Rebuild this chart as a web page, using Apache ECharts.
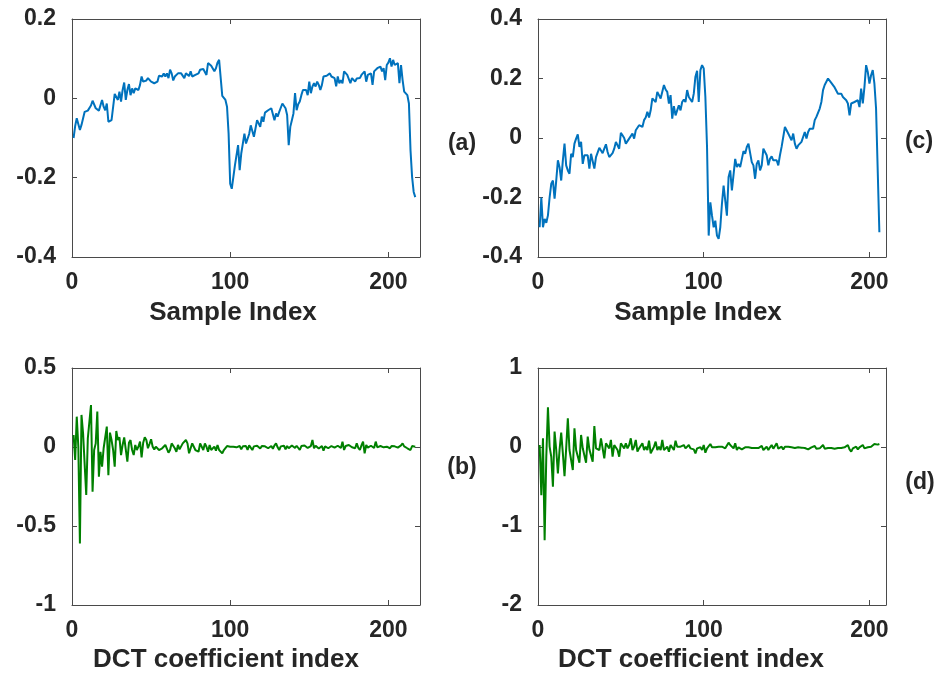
<!DOCTYPE html>
<html>
<head>
<meta charset="utf-8">
<script src="https://cdn.jsdelivr.net/npm/echarts@6/dist/echarts.min.js"></script>
<style>
html,body{margin:0;padding:0;background:#fff;}
#chart{width:938px;height:677px;}
</style>
</head>
<body>
<div id="chart"></div>
<script>
// Panel (a): sample signal 1
const signalA = [-0.100,-0.070,-0.050,-0.055,-0.080,-0.067,-0.063,-0.034,-0.032,-0.031,-0.030,-0.018,-0.006,-0.008,-0.025,-0.030,-0.031,-0.030,-0.004,-0.021,
-0.030,-0.013,-0.059,-0.057,-0.055,-0.050,0.011,0.008,-0.004,0.017,-0.008,0.021,0.040,-0.004,0.021,0.036,0.008,0.025,0.013,0.025,
0.025,0.021,0.034,0.055,0.042,0.046,0.045,0.051,0.046,0.042,0.040,0.038,0.040,0.042,0.057,0.059,0.055,0.063,0.055,0.063,
0.051,0.072,0.063,0.045,0.055,0.059,0.063,0.068,0.063,0.059,0.051,0.063,0.063,0.056,0.068,0.055,0.059,0.059,0.055,0.063,
0.072,0.073,0.074,0.072,0.059,0.089,0.090,0.082,0.080,0.068,0.076,0.090,0.097,0.101,0.006,0.004,-0.004,-0.021,-0.089,-0.215,
-0.228,-0.232,-0.169,-0.165,-0.118,-0.181,-0.139,-0.114,-0.089,-0.114,-0.110,-0.090,-0.068,-0.068,-0.097,-0.076,-0.055,-0.063,-0.072,-0.046,
-0.059,-0.036,-0.034,-0.030,-0.028,-0.025,-0.021,-0.055,-0.038,-0.046,-0.034,-0.030,-0.013,-0.017,-0.025,-0.042,-0.118,-0.072,-0.055,-0.038,
0.013,-0.030,-0.015,-0.008,0.008,0.021,0.025,0.021,0.008,0.042,0.013,0.030,0.038,0.030,0.042,0.034,0.021,0.034,0.055,0.055,
0.057,0.059,0.063,0.055,0.059,0.051,0.030,0.055,0.038,0.046,0.038,0.068,0.068,0.059,0.059,0.038,0.051,0.046,0.042,0.050,
0.055,0.051,0.059,0.055,0.068,0.042,0.059,0.055,0.063,0.034,0.068,0.063,0.076,0.072,0.080,0.068,0.076,0.046,0.084,0.090,
0.101,0.080,0.097,0.084,0.089,0.089,0.038,0.084,0.046,0.017,0.017,0.008,-0.013,-0.131,-0.198,-0.236,-0.249];

// Panel (b): DCT coefficients of signal 1
const dctA = [0.076,-0.082,0.192,0.002,-0.611,0.203,0.087,0.082,-0.304,0.055,0.055,0.266,-0.283,-0.019,0.023,0.224,-0.188,-0.030,-0.125,-0.008,
-0.019,0.129,-0.178,0.091,0.044,-0.019,-0.125,0.101,0.044,0.061,-0.051,0.013,0.061,0.070,-0.093,0.027,0.044,-0.019,-0.051,0.013,
-0.019,0.002,0.034,-0.066,0.027,0.061,0.044,-0.008,0.019,0.049,0.002,-0.015,0.002,-0.008,-0.019,-0.019,-0.008,-0.019,0.013,0.023,
-0.036,-0.019,0.023,0.023,-0.008,-0.030,0.013,-0.015,-0.019,0.023,0.034,0.044,0.023,-0.040,-0.008,0.023,0.034,-0.019,-0.008,-0.030,
0.023,0.013,-0.019,0.023,0.002,-0.030,0.013,-0.019,-0.019,0.002,-0.023,0.013,-0.019,-0.019,-0.040,-0.019,-0.008,0.006,-0.002,0.002,
0.010,0.002,-0.006,-0.002,0.008,0.006,-0.015,0.004,-0.002,0.006,-0.019,0.010,0.006,-0.019,0.004,-0.002,0.008,0.002,-0.010,0.006,
-0.006,0.004,0.002,-0.008,-0.002,0.006,-0.011,0.010,0.023,-0.002,-0.019,0.004,-0.002,0.008,-0.015,0.006,-0.008,0.004,0.010,0.002,
-0.006,0.008,0.004,-0.019,0.006,-0.002,0.010,0.002,-0.006,-0.002,0.006,0.044,-0.008,0.008,0.004,-0.010,-0.019,0.006,-0.023,0.004,
0.002,-0.008,-0.015,0.006,0.002,-0.004,-0.008,0.008,0.002,-0.006,0.034,-0.019,0.006,-0.004,0.013,0.004,-0.002,0.010,-0.008,0.023,
-0.006,-0.019,0.010,0.034,-0.040,0.013,-0.004,0.002,0.008,0.006,-0.006,0.034,-0.002,-0.011,0.006,0.004,-0.002,0.008,0.002,-0.006,
-0.008,0.006,-0.002,0.004,0.006,-0.004,0.002,0.010,0.023,0.004,0.006,-0.008,-0.019,-0.019,0.006,0.013,0.002];

// Panel (c): sample signal 2
const signalC = [-0.300,-0.200,-0.300,-0.272,-0.285,-0.260,-0.200,-0.154,-0.143,-0.204,-0.143,-0.075,-0.098,-0.143,-0.075,-0.019,-0.092,-0.109,-0.120,-0.053,
-0.064,-0.019,-0.002,0.012,-0.030,-0.013,-0.087,-0.058,-0.058,-0.058,-0.103,-0.053,-0.053,-0.103,-0.064,-0.064,-0.033,-0.042,-0.051,-0.036,
-0.021,-0.047,-0.064,-0.070,-0.051,-0.036,-0.013,-0.008,-0.036,0.017,0.009,0.000,-0.019,-0.019,-0.002,0.003,0.015,-0.002,0.026,0.031,
0.043,0.048,0.037,0.060,0.069,0.088,0.069,0.093,0.133,0.138,0.121,0.155,0.144,0.133,0.133,0.178,0.163,0.155,0.116,0.144,
0.065,0.107,0.076,0.073,0.110,0.093,0.121,0.129,0.121,0.161,0.138,0.138,0.121,0.149,0.206,0.226,0.121,0.228,0.245,0.234,
0.138,-0.030,-0.328,-0.216,-0.261,-0.300,-0.278,-0.328,-0.339,-0.300,-0.221,-0.160,-0.165,-0.261,-0.131,-0.109,-0.176,-0.182,-0.070,-0.098,
-0.087,-0.098,-0.098,-0.044,-0.053,-0.030,-0.019,-0.025,-0.081,-0.092,-0.137,-0.087,-0.075,-0.109,-0.092,-0.036,-0.042,-0.058,-0.092,-0.070,
-0.062,-0.075,-0.070,-0.075,-0.092,-0.058,-0.030,-0.030,0.037,0.037,0.015,0.015,-0.008,0.015,-0.019,-0.036,-0.025,-0.020,-0.013,-0.013,
0.020,-0.002,0.020,0.031,0.037,0.031,0.060,0.071,0.076,0.099,0.121,0.161,0.178,0.189,0.200,0.194,0.185,0.183,0.170,0.166,
0.149,0.155,0.149,0.138,0.133,0.127,0.116,0.076,0.116,0.121,0.121,0.121,0.127,0.104,0.166,0.116,0.172,0.245,0.222,0.183,
0.211,0.228,0.183,0.099,-0.109,-0.317];

// Panel (d): DCT coefficients of signal 2
const dctC = [0.025,-0.609,0.110,-1.180,-0.123,0.503,0.004,-0.123,-0.503,0.195,-0.038,-0.334,-0.038,0.182,-0.080,-0.368,-0.017,0.364,-0.038,-0.038,
-0.292,0.237,-0.038,-0.030,-0.199,0.152,-0.017,-0.038,-0.199,0.131,-0.030,-0.038,-0.186,0.266,-0.017,0.004,-0.038,0.110,-0.017,-0.144,
0.047,0.068,-0.017,0.089,-0.123,0.025,0.047,-0.038,-0.123,0.047,0.025,-0.017,0.047,-0.017,0.025,0.110,-0.038,0.004,0.089,-0.059,
-0.017,0.004,0.047,-0.038,0.004,-0.038,0.080,-0.080,-0.038,0.004,0.068,-0.038,0.004,-0.038,0.089,-0.038,-0.017,0.004,-0.059,0.025,
0.004,-0.038,0.080,0.004,-0.017,0.004,0.004,0.025,-0.017,0.004,0.025,-0.017,-0.004,-0.030,-0.080,-0.017,-0.038,-0.004,-0.038,0.025,
-0.072,-0.017,0.004,0.038,-0.004,0.004,-0.004,0.013,0.004,-0.004,0.004,0.025,-0.017,-0.004,0.055,0.025,0.038,-0.017,0.047,-0.038,
-0.004,0.004,-0.030,-0.013,-0.004,-0.013,-0.004,-0.021,-0.013,-0.004,-0.013,0.004,-0.013,-0.004,0.013,-0.038,-0.013,0.004,-0.038,-0.004,
0.025,-0.021,-0.030,0.047,-0.021,-0.038,0.004,-0.030,0.004,0.025,0.004,-0.017,-0.004,-0.021,-0.013,-0.004,-0.004,-0.004,-0.008,-0.004,
-0.013,-0.021,-0.030,-0.021,-0.004,-0.004,0.013,-0.021,-0.004,-0.017,0.004,0.025,-0.021,-0.004,-0.013,0.004,-0.013,0.004,-0.021,-0.004,
-0.013,0.004,-0.013,0.004,-0.004,-0.004,0.025,-0.030,-0.059,-0.017,-0.038,0.004,-0.030,-0.004,0.004,0.025,-0.017,0.004,-0.004,0.013,
0.004,0.004,0.038,0.025,0.030,0.038];

// Axis tick labels / ranges
const xTicks = [0, 100, 200];
const yRangeA = {min: -0.4, max: 0.2, interval: 0.2};
const yRangeC = {min: -0.4, max: 0.4, interval: 0.2};
const yRangeB = {min: -1, max: 0.5, interval: 0.5};
const yRangeD = {min: -2, max: 1, interval: 1};
const xMaxLeft = 220;
const xMaxRight = 210;
const panelLabels = ['(a)', '(b)', '(c)', '(d)'];
const xTitles = ['Sample Index', 'DCT coefficient index', 'Sample Index', 'DCT coefficient index'];

const FONT = 'Liberation Sans, Arial, Helvetica, sans-serif';
const AXIS_COLOR = '#4a4a4a';
const TEXT_COLOR = '#262626';
const BLUE = '#0072BD';
const GREEN = '#008000';

const grids = [
  {left: 72, top: 19, width: 348, height: 238},   // a
  {left: 72, top: 368, width: 348, height: 237},  // b
  {left: 538, top: 19, width: 348, height: 238},  // c
  {left: 538, top: 368, width: 348, height: 237}  // d
];
const datasets = [signalA, dctA, signalC, dctC];
const yRanges = [yRangeA, yRangeB, yRangeC, yRangeD];
const xMaxes = [xMaxLeft, xMaxLeft, xMaxRight, xMaxRight];
const colors = [BLUE, GREEN, BLUE, GREEN];

const xAxes = [], yAxes = [], series = [];
for (let i = 0; i < 4; i++) {
  const common = {
    gridIndex: i, type: 'value', min: 0, max: xMaxes[i],
    axisLine: {show: true, onZero: false, lineStyle: {color: AXIS_COLOR, width: 1}},
    splitLine: {show: false}
  };
  xAxes.push(Object.assign({}, common, {
    position: 'bottom',
    axisTick: {show: true, inside: true, length: 5, customValues: xTicks, lineStyle: {color: AXIS_COLOR}},
    axisLabel: {show: true, customValues: xTicks, margin: 14, fontFamily: FONT, fontWeight: 'bold', fontSize: 23, color: TEXT_COLOR}
  }));
  const yr = yRanges[i];
  const ycommon = {
    gridIndex: i, type: 'value', min: yr.min, max: yr.max, interval: yr.interval,
    axisLine: {show: true, onZero: false, lineStyle: {color: AXIS_COLOR, width: 1}},
    splitLine: {show: false}
  };
  yAxes.push(Object.assign({}, ycommon, {
    position: 'left',
    axisTick: {show: true, inside: true, length: 5, lineStyle: {color: AXIS_COLOR}},
    axisLabel: {show: true, margin: 16, fontFamily: FONT, fontWeight: 'bold', fontSize: 23, color: TEXT_COLOR}
  }));
}
for (let i = 0; i < 4; i++) {
  xAxes.push({
    gridIndex: i, type: 'value', min: 0, max: xMaxes[i], position: 'top',
    axisLine: {show: true, onZero: false, lineStyle: {color: AXIS_COLOR, width: 1}},
    axisTick: {show: true, inside: true, length: 5, customValues: xTicks, lineStyle: {color: AXIS_COLOR}},
    axisLabel: {show: false}, splitLine: {show: false}
  });
  const yr = yRanges[i];
  yAxes.push({
    gridIndex: i, type: 'value', min: yr.min, max: yr.max, interval: yr.interval, position: 'right',
    axisLine: {show: true, onZero: false, lineStyle: {color: AXIS_COLOR, width: 1}},
    axisTick: {show: true, inside: true, length: 5, lineStyle: {color: AXIS_COLOR}},
    axisLabel: {show: false}, splitLine: {show: false}
  });
}
for (let i = 0; i < 4; i++) {
  series.push({
    type: 'line', xAxisIndex: i, yAxisIndex: i,
    data: datasets[i].map((v, k) => [k + 1, v]),
    showSymbol: false, symbol: 'none',
    lineStyle: {color: colors[i], width: 2},
    clip: true
  });
}

const labelPos = [[462, 144], [462, 468], [919, 142], [920, 483]];
const titlePos = [[233, 313], [226, 660], [698, 313], [691, 660]];
const graphics = [];
for (let i = 0; i < 4; i++) {
  graphics.push({
    type: 'text', x: labelPos[i][0], y: labelPos[i][1],
    style: {text: panelLabels[i], font: 'bold 23px ' + FONT, fill: TEXT_COLOR, align: 'center', verticalAlign: 'middle'}
  });
  graphics.push({
    type: 'text', x: titlePos[i][0], y: titlePos[i][1],
    style: {text: xTitles[i], font: 'bold 26px ' + FONT, fill: TEXT_COLOR, align: 'center', verticalAlign: 'middle'}
  });
}

const chart = echarts.init(document.getElementById('chart'), null, {renderer: 'canvas'});
chart.setOption({
  animation: false,
  backgroundColor: '#ffffff',
  grid: grids,
  xAxis: xAxes,
  yAxis: yAxes,
  series: series,
  graphic: graphics
});
</script>
</body>
</html>
